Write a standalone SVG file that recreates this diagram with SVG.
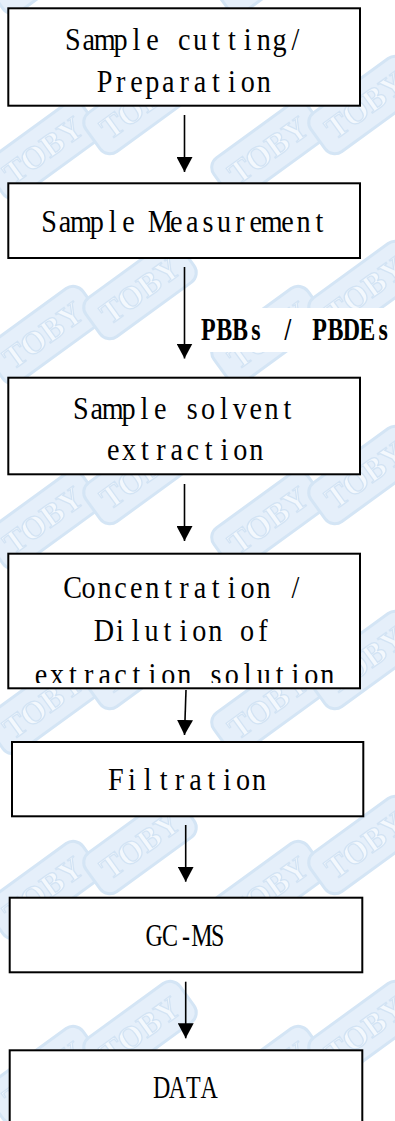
<svg xmlns="http://www.w3.org/2000/svg" width="395" height="1121" viewBox="0 0 395 1121">
<style>
.box{fill:#ffffff;stroke:#000000;stroke-width:2}
.lbl{font-family:"Liberation Serif","DejaVu Serif",serif;font-size:32px;fill:#000000;text-anchor:middle}
.edge{stroke:#000000;stroke-width:1.6;fill:none;marker-end:url(#arr)}
.wmb{fill:#e5effa;stroke:#d4e5f5;stroke-width:3}
.wmt{font-family:"Liberation Serif","DejaVu Serif",serif;font-weight:bold;font-size:32px;fill:#f3f8fd;stroke:#d2e3f4;stroke-width:1.2;text-anchor:middle}
</style>
<defs>
<marker id="arr" markerUnits="userSpaceOnUse" markerWidth="16" markerHeight="16" refX="15" refY="8" orient="auto">
<path d="M0,0 L15,8 L0,16 Z" fill="#000000"/>
</marker>
<g id="badge">
<rect class="wmb" x="-58" y="-24" width="116" height="48" rx="12"/>
<text class="wmt" x="0" y="11">TOBY</text>
</g>
<pattern id="wm" patternUnits="userSpaceOnUse" x="0" y="0" width="225" height="185">
<use href="#badge" transform="translate(43,150) rotate(-36)"/>
<use href="#badge" transform="translate(268,150) rotate(-36)"/>
<use href="#badge" transform="translate(43,-35) rotate(-36)"/>
<use href="#badge" transform="translate(268,-35) rotate(-36)"/>
<use href="#badge" transform="translate(140,105) rotate(-36)"/>
<use href="#badge" transform="translate(-85,105) rotate(-36)"/>
<use href="#badge" transform="translate(140,290) rotate(-36)"/>
</pattern>
<clipPath id="clip4"><rect x="0" y="540" width="395" height="143"/></clipPath>
</defs>
<rect x="0" y="0" width="395" height="1121" fill="#ffffff"/>
<rect x="0" y="0" width="395" height="1121" fill="url(#wm)"/>

<g id="connectors">
<line class="edge" x1="184.5" y1="115" x2="184.5" y2="172"/>
<line class="edge" x1="184.5" y1="267" x2="184.5" y2="358.5"/>
<line class="edge" x1="184.5" y1="484" x2="184.5" y2="541"/>
<line class="edge" x1="186" y1="690" x2="184.5" y2="735"/>
<line class="edge" x1="185.7" y1="825" x2="185.7" y2="881.7"/>
<line class="edge" x1="185.7" y1="981.7" x2="185.7" y2="1038.3"/>
</g>

<g id="edge-label">
<rect x="199" y="308" width="196" height="44" fill="#ffffff"/>
<text class="lbl" transform="scale(0.75,1)" y="340" font-weight="bold" x="277.67 298.87 320.07 341.27 362.47 383.67 404.87 426.07 447.27 468.47 489.67 510.87">PBBs / PBDEs</text>
</g>

<g id="n1">
<rect class="box" x="8.3" y="8.3" width="351.7" height="97.4"/>
<text class="lbl" transform="scale(0.88,1)" y="50" x="82.84 100.91 118.98 137.04 155.11 173.18 191.25 209.32 227.39 245.45 263.52 281.59 299.66 317.72 335.79">Sample cutting/</text>
<text class="lbl" transform="scale(0.88,1)" y="92" x="118.98 137.04 155.11 173.18 191.25 209.32 227.39 245.45 263.52 281.59 299.66">Preparation</text>
</g>

<g id="n2">
<rect class="box" x="8.3" y="183.3" width="351.7" height="74.7"/>
<text class="lbl" transform="scale(0.88,1)" y="232" x="55.74 73.81 91.88 109.94 128.01 146.08 164.15 182.22 200.28 218.35 236.42 254.49 272.56 290.62 308.69 326.76 344.83 362.90">Sample Measurement</text>
</g>

<g id="n3">
<rect class="box" x="8.3" y="377.7" width="351.7" height="96.6"/>
<text class="lbl" transform="scale(0.88,1)" y="419.5" x="91.88 109.94 128.01 146.08 164.15 182.22 200.28 218.35 236.42 254.49 272.56 290.62 308.69 326.76">Sample solvent</text>
<text class="lbl" transform="scale(0.88,1)" y="460" x="128.58 146.65 164.72 182.78 200.85 218.92 236.99 255.06 273.12 291.19">extraction</text>
</g>

<g id="n4">
<rect class="box" x="8.3" y="553.7" width="351.7" height="134.6"/>
<text class="lbl" transform="scale(0.88,1)" y="598.5" x="82.61 100.68 118.75 136.81 154.88 172.95 191.02 209.09 227.16 245.22 263.29 281.36 299.43 317.49 335.56">Concentration /</text>
<text class="lbl" transform="scale(0.88,1)" y="641.5" x="118.07 136.14 154.21 172.27 190.34 208.41 226.48 244.55 262.61 280.68 298.75">Dilution of</text>
<g clip-path="url(#clip4)">
<text class="lbl" transform="scale(0.88,1)" y="685.5" x="46.71 64.78 82.85 100.91 118.98 137.05 155.12 173.19 191.25 209.32 227.39 245.46 263.53 281.59 299.66 317.73 335.80 353.87 371.93">extraction solution</text>
</g>
</g>

<g id="n5">
<rect class="box" x="12" y="742" width="351.3" height="74.3"/>
<text class="lbl" transform="scale(0.88,1)" y="790" x="131.76 149.83 167.90 185.96 204.03 222.10 240.17 258.24 276.30 294.37">Filtration</text>
</g>

<g id="n6">
<rect class="box" x="9.7" y="897.7" width="352.6" height="74.6"/>
<text class="lbl" transform="scale(0.75,1)" y="946" x="205.47 226.67 247.87 269.07 290.27">GC-MS</text>
</g>

<g id="n7">
<rect class="box" x="9.7" y="1050.3" width="352.6" height="100"/>
<text class="lbl" transform="scale(0.75,1)" y="1098.3" x="215.4 236.6 257.8 279.0">DATA</text>
</g>
</svg>
